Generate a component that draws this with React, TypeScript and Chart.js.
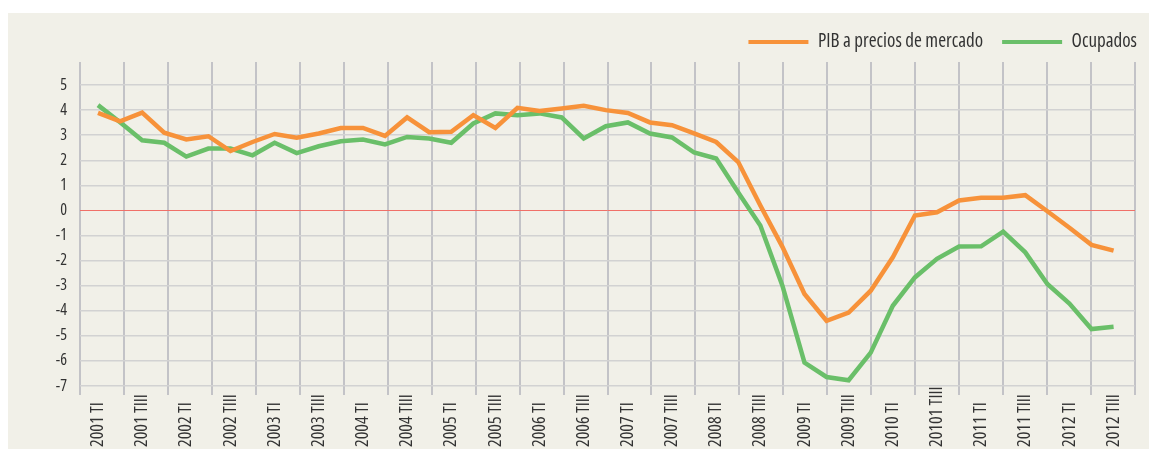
import { useEffect, useRef } from "react";
import { Chart, registerables } from "chart.js";

Chart.register(...registerables);

// Etiquetas de trimestre (una de cada dos se rotula en el eje)
const tickLabels = [
  "2001 TI", "2001 TIII", "2002 TI", "2002 TIII", "2003 TI", "2003 TIII",
  "2004 TI", "2004 TIII", "2005 TI", "2005 TIII", "2006 TI", "2006 TIII",
  "2007 TI", "2007 TIII", "2008 TI", "2008 TIII", "2009 TI", "2009 TIII",
  "2010 TI", "20101 TIII", "2011 TI", "2011 TIII", "2012 TI", "2012 TIII",
];

const seriesNames = ["PIB a precios de mercado", "Ocupados"];

// 2001 TI ... 2012 TIII (47 trimestres)
const pibValues = [
  3.89, 3.55, 3.9, 3.1, 2.83, 2.96, 2.37, 2.73, 3.05, 2.9, 3.07, 3.29,
  3.29, 2.97, 3.71, 3.12, 3.14, 3.8, 3.29, 4.09, 3.97, 4.07, 4.17, 4.0,
  3.89, 3.51, 3.4, 3.07, 2.73, 1.93, 0.2, -1.45, -3.33, -4.4, -4.07, -3.2,
  -1.87, -0.2, -0.07, 0.4, 0.51, 0.51, 0.61, -0.03, -0.69, -1.37, -1.6,
];

const ocupadosValues = [
  4.2, 3.52, 2.8, 2.7, 2.15, 2.47, 2.47, 2.2, 2.7, 2.29, 2.56, 2.76,
  2.83, 2.63, 2.93, 2.87, 2.7, 3.47, 3.87, 3.8, 3.87, 3.71, 2.87, 3.36,
  3.51, 3.07, 2.91, 2.31, 2.07, 0.72, -0.6, -3.0, -6.07, -6.64, -6.77, -5.67,
  -3.8, -2.67, -1.93, -1.44, -1.43, -0.84, -1.67, -2.93, -3.71, -4.73, -4.64,
];

const yTickValues = [5, 4, 3, 2, 1, 0, -1, -2, -3, -4, -5, -6, -7];

const FONT = "'Open Sans', 'DejaVu Sans Condensed', sans-serif";
const STRETCH = "condensed";
const TEXT = "#333333";
const ORANGE = "#f7923a";
const GREEN = "#6abf69";
const BG = "#f1f0e8";

export default function App() {
  const ref = useRef<HTMLCanvasElement | null>(null);

  useEffect(() => {
    if (!ref.current) return;
    const xMin = -0.815;
    const xMax = 46.97;
    const gridCount = 24;

    const legendShift = {
      id: "legendShift",
      afterLayout(chart: any) {
        const lg = chart.legend;
        if (!lg) return;
        const dx = 21;
        lg.left += dx;
        lg.right += dx;
        const h = lg.bottom - lg.top;
        lg.top = 0.5;
        lg.bottom = lg.top + h;
      },
    };

    const chart = new Chart(ref.current, {
      type: "line",
      data: {
        datasets: [
          {
            label: seriesNames[0],
            data: pibValues.map((y, i) => ({ x: i, y })),
            borderColor: ORANGE,
            backgroundColor: ORANGE,
            borderWidth: 4.5,
            pointRadius: 0,
            xAxisID: "x",
            yAxisID: "y",
          },
          {
            label: seriesNames[1],
            data: ocupadosValues.map((y, i) => ({ x: i, y })),
            borderColor: GREEN,
            backgroundColor: GREEN,
            borderWidth: 4.5,
            pointRadius: 0,
            xAxisID: "x",
            yAxisID: "y",
          },
        ],
      },
      options: {
        animation: false,
        responsive: true,
        maintainAspectRatio: false,
        layout: { padding: { top: 1, right: 14, left: 0, bottom: 0 } },
        plugins: {
          legend: {
            position: "top",
            align: "end",
            labels: {
              boxWidth: 60,
              boxHeight: 4,
              padding: 19,
              color: TEXT,
              font: { family: FONT, size: 19, weight: STRETCH },
              generateLabels: (c: any) =>
                Chart.defaults.plugins.legend.labels
                  .generateLabels(c)
                  .map((it: any) => ({ ...it, fillStyle: it.strokeStyle, lineWidth: 0 })),
            },
          },
          tooltip: { enabled: false },
        },
        scales: {
          x2: {
            type: "linear",
            position: "bottom",
            weight: 0,
            min: xMin,
            max: xMax,
            border: { display: false },
            grid: { color: "#c3c3c7", lineWidth: 2, tickLength: 9, drawTicks: true },
            ticks: { display: false },
            afterBuildTicks: (s: any) => {
              const step = (xMax - xMin) / gridCount;
              s.ticks = Array.from({ length: gridCount + 1 }, (_, k) => ({ value: xMin + k * step }));
            },
            afterFit: (s: any) => {
              s.height = 0;
              s.paddingLeft = 0;
              s.paddingRight = 0;
            },
          },
          x: {
            type: "linear",
            position: "bottom",
            weight: 1,
            min: xMin,
            max: xMax,
            border: { display: false },
            grid: { display: false, drawTicks: false },
            afterBuildTicks: (s: any) => {
              s.ticks = tickLabels.map((_, j) => ({ value: 2 * j }));
            },
            ticks: {
              autoSkip: false,
              minRotation: 90,
              maxRotation: 90,
              padding: 61,
              color: TEXT,
              font: { family: FONT, size: 18, weight: STRETCH },
              callback: (v: any) => tickLabels[Math.round(v / 2)] ?? "",
            },
            afterFit: (s: any) => {
              s.height = 63;
              s.paddingLeft = 0;
              s.paddingRight = 0;
              // labels anchored at the bottom, reading upwards
              s._getXAxisLabelAlignment = () => "left";
            },
          },
          y: {
            min: -7,
            max: 5.92,
            border: { display: false },
            afterBuildTicks: (s: any) => {
              s.ticks = yTickValues.map((v) => ({ value: v }));
            },
            grid: {
              drawTicks: false,
              color: (ctx: any) => (ctx.tick && ctx.tick.value === 0 ? "#f07068" : "#d2d2d2"),
              lineWidth: (ctx: any) => (ctx.tick && ctx.tick.value === 0 ? 1 : 1.5),
            },
            ticks: {
              padding: 13,
              color: TEXT,
              font: { family: FONT, size: 16, weight: STRETCH },
              callback: (v: any) => String(v),
            },
            afterFit: (s: any) => {
              s.width = 72;
            },
          },
        },
      },
      plugins: [legendShift],
    } as any);

    return () => chart.destroy();
  }, []);

  return (
    <div style={{ paddingTop: 5 }}>
      <div style={{ position: "relative", width: 1141, height: 436, background: BG }}>
        <canvas ref={ref} />
      </div>
    </div>
  );
}
